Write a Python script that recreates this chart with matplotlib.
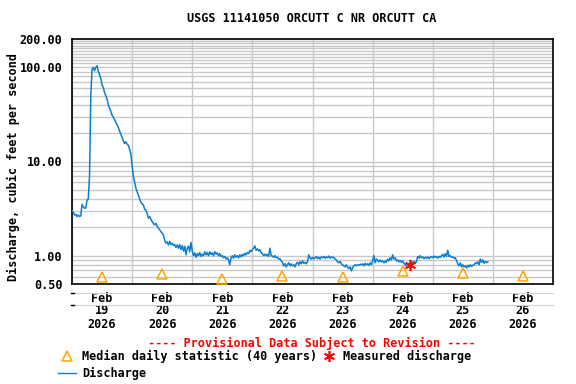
import numpy as np
import pandas as pd
import matplotlib
matplotlib.use('Agg')
import matplotlib.pyplot as plt
from matplotlib.lines import Line2D
from matplotlib.ticker import FixedLocator, NullFormatter
from matplotlib.transforms import blended_transform_factory

plt.rcParams['font.family'] = ['DejaVu Sans Mono']
plt.rcParams['font.weight'] = 'bold'
FS = 8.5

# ---------------- data ----------------
title = "USGS 11141050 ORCUTT C NR ORCUTT CA"
start = "2026-02-19 00:00"
interval = "30min"
# discharge, cfs, every 30 minutes from start
discharge = [
    3.0, 2.9, 2.7, 2.75, 2.6, 2.7, 2.6, 2.65, 3.5, 3.3, 3.2, 3.2, 3.9, 4.0, 7.0, 50, 95, 100, 92, 100, 104, 90, 84, 76,
    65, 61, 54, 50, 46, 40, 37, 34, 31, 29.5, 28, 26, 24.5, 23, 21, 19.5, 18, 16.5, 15.5, 16.2, 15.3, 14.8, 13.5, 12,
    9.0, 7.0, 6.0, 5.2, 4.8, 4.4, 4.0, 3.7, 3.55, 3.45, 3.1, 3.05, 2.8, 2.5, 2.6, 2.45, 2.3, 2.2, 2.12, 2.2, 2.05, 1.96, 1.88, 1.8,
    1.73, 1.66, 1.45, 1.36, 1.4, 1.3, 1.42, 1.31, 1.36, 1.28, 1.31, 1.22, 1.3, 1.2, 1.31, 1.16, 1.28, 1.12, 1.26, 1.02, 1.2, 1.26, 1.1, 1.38,
    1.12, 1.0, 1.07, 0.96, 1.05, 1.0, 1.08, 0.98, 1.04, 1.0, 1.1, 1.02, 1.08, 1.0, 1.1, 1.03, 1.07, 1.0, 1.1, 1.04, 1.07, 1.0, 1.05, 0.98,
    1.0, 0.95, 0.98, 0.92, 0.95, 0.9, 0.8, 0.95, 1.0, 0.94, 1.02, 0.96, 1.0, 0.95, 1.02, 0.97, 1.03, 1.0, 1.06, 1.02, 1.08, 1.05, 1.14, 1.1,
    1.16, 1.2, 1.27, 1.14, 1.18, 1.12, 1.16, 1.08, 1.05, 1.0, 1.04, 1.0, 1.03, 0.98, 1.2, 1.0, 0.99, 0.96, 1.0, 0.95, 0.96, 0.92, 0.93, 0.88,
    0.85, 0.78, 0.82, 0.76, 0.8, 0.84, 0.78, 0.82, 0.78, 0.8, 0.76, 0.82, 0.85, 0.8, 0.86, 0.82, 0.88, 0.83, 0.85, 0.82, 0.86, 1.02, 0.95, 0.92,
    0.96, 0.92, 0.95, 0.98, 0.93, 0.96, 0.92, 0.97, 0.95, 0.98, 0.94, 0.97, 0.95, 0.99, 0.94, 0.97, 0.95, 0.96, 0.92, 0.9, 0.86, 0.84, 0.87, 0.82,
    0.8, 0.78, 0.76, 0.8, 0.75, 0.73, 0.76, 0.69, 0.74, 0.78, 0.8, 0.78, 0.8, 0.79, 0.81, 0.8, 0.82, 0.78, 0.83, 0.8, 0.82, 0.79, 0.84, 0.8,
    0.88, 1.0, 0.84, 0.92, 0.9, 0.86, 0.9, 0.86, 0.88, 0.84, 0.88, 0.85, 0.92, 0.88, 0.95, 0.9, 1.02, 0.92, 0.95, 0.88, 0.9, 0.86, 0.89, 0.85,
    0.88, 0.83, 0.8, 0.78, 0.82, 0.79, 0.8, 0.86, 0.84, 0.87, 0.84, 0.86, 0.98, 0.94, 1.0, 0.95, 0.97, 0.93, 0.96, 0.94, 0.97, 0.93, 0.96, 0.98,
    0.95, 0.99, 0.96, 0.98, 0.94, 0.98, 0.96, 1.0, 1.03, 0.97, 1.05, 0.98, 1.14, 0.98, 1.0, 0.96, 0.97, 0.94, 0.95, 0.88, 0.82, 0.78, 0.84, 0.76,
    0.8, 0.76, 0.78, 0.74, 0.79, 0.76, 0.8, 0.77, 0.79, 0.8, 0.84, 0.82, 0.86, 0.8, 0.92, 0.85, 0.9, 0.83, 0.87, 0.84, 0.86,
]
median_dates = ["2026-02-19 12:00", "2026-02-20 12:00", "2026-02-21 12:00", "2026-02-22 12:00",
                "2026-02-23 12:00", "2026-02-24 12:00", "2026-02-25 12:00", "2026-02-26 12:00"]
median_values = [0.60, 0.64, 0.57, 0.61, 0.60, 0.68, 0.66, 0.61]
measured_dates = ["2026-02-24 15:00"]
measured_values = [0.80]
day_labels = ["19", "20", "21", "22", "23", "24", "25", "26"]
y_ticks = [0.5, 1, 10, 100, 200]
y_ticklabels = ["0.50", "1.00", "10.00", "100.00", "200.00"]
y_grid = [0.6, 0.7, 0.8, 0.9, 2, 3, 4, 5, 6, 7, 8, 9, 20, 30, 40, 50, 60, 70, 80, 90,
          110, 120, 130, 140, 150, 160, 170, 180, 190]

# ---------------- figure ----------------
W, H = 576, 384
fig = plt.figure(figsize=(W / 100, H / 100), dpi=100)
ax = fig.add_axes([72 / W, 1 - 284 / H, (553 - 72) / W, 245 / H])

times = pd.date_range(start, periods=len(discharge), freq=interval)
blue = '#0a7fd0'
orange = '#ffa500'
ax.plot(times, discharge, color=blue, lw=1.1, zorder=3)
ax.plot(pd.to_datetime(median_dates), median_values, ls='none', marker='^', ms=7,
        mfc='none', mec=orange, mew=1.1, zorder=4, clip_on=False)
ax.plot(pd.to_datetime(measured_dates), measured_values, ls='none', marker=(6, 2, 0), ms=8,
        mec='red', mew=1.2, zorder=5)

ax.set_yscale('log')
ax.set_ylim(0.5, 200)
x0 = pd.Timestamp("2026-02-19 00:00")
x1 = pd.Timestamp("2026-02-27 00:00")
ax.set_xlim(x0, x1)

ax.yaxis.set_major_locator(FixedLocator(y_ticks))
ax.set_yticklabels(y_ticklabels)
ax.yaxis.set_minor_locator(FixedLocator(y_grid))
ax.yaxis.set_minor_formatter(NullFormatter())
days = pd.date_range(x0, x1, freq='1D')
ax.set_xticks(days)
ax.set_xticklabels([])
ax.tick_params(axis='both', which='both', length=0)
ax.tick_params(axis='y', pad=7, labelsize=FS)
ax.grid(True, which='both', color='#c8c8c8', lw=1.0, zorder=1)
for s in ax.spines.values():
    s.set_color('black')
    s.set_linewidth(1.2)

# x labels (3 lines)
tr = blended_transform_factory(ax.transData, fig.transFigure)
noons = pd.to_datetime(median_dates)
for d, lab in zip(noons, day_labels):
    ax.text(d, 1 - 298 / H, "Feb", transform=tr, ha='center', va='center', fontsize=FS)
    ax.text(d, 1 - 311 / H, lab, transform=tr, ha='center', va='center', fontsize=FS)
    ax.text(d, 1 - 324 / H, "2026", transform=tr, ha='center', va='center', fontsize=FS)

# thin separator lines under the axis
for yy in (293, 305):
    fig.add_artist(Line2D([72 / W, 553 / W], [1 - yy / H, 1 - yy / H], color='#d0d0d0', lw=0.8))
    fig.add_artist(Line2D([71 / W, 74 / W], [1 - yy / H, 1 - yy / H], color='black', lw=1.0))

fig.text(312 / W, 1 - 19 / H, title, ha='center', va='center', fontsize=FS)
fig.text(13 / W, 1 - 167 / H, "Discharge, cubic feet per second", rotation=90,
         ha='center', va='center', fontsize=FS)

# legend
fig.text(312 / W, 1 - 343 / H, "---- Provisional Data Subject to Revision ----",
         color='red', ha='center', va='center', fontsize=FS)
fig.add_artist(Line2D([67 / W], [1 - 356 / H], marker='^', ms=7, mfc='none', mec=orange, mew=1.1, ls='none'))
fig.text(82 / W, 1 - 356 / H, "Median daily statistic (40 years)", ha='left', va='center', fontsize=FS)
fig.add_artist(Line2D([329 / W], [1 - 356 / H], marker=(6, 2, 0), ms=8, mec='red', mew=1.2, ls='none'))
fig.text(343 / W, 1 - 356 / H, "Measured discharge", ha='left', va='center', fontsize=FS)
fig.add_artist(Line2D([58 / W, 76 / W], [1 - 373 / H, 1 - 373 / H], color=blue, lw=1.0))
fig.text(82 / W, 1 - 373 / H, "Discharge", ha='left', va='center', fontsize=FS)

fig.savefig("out.png", dpi=100)
